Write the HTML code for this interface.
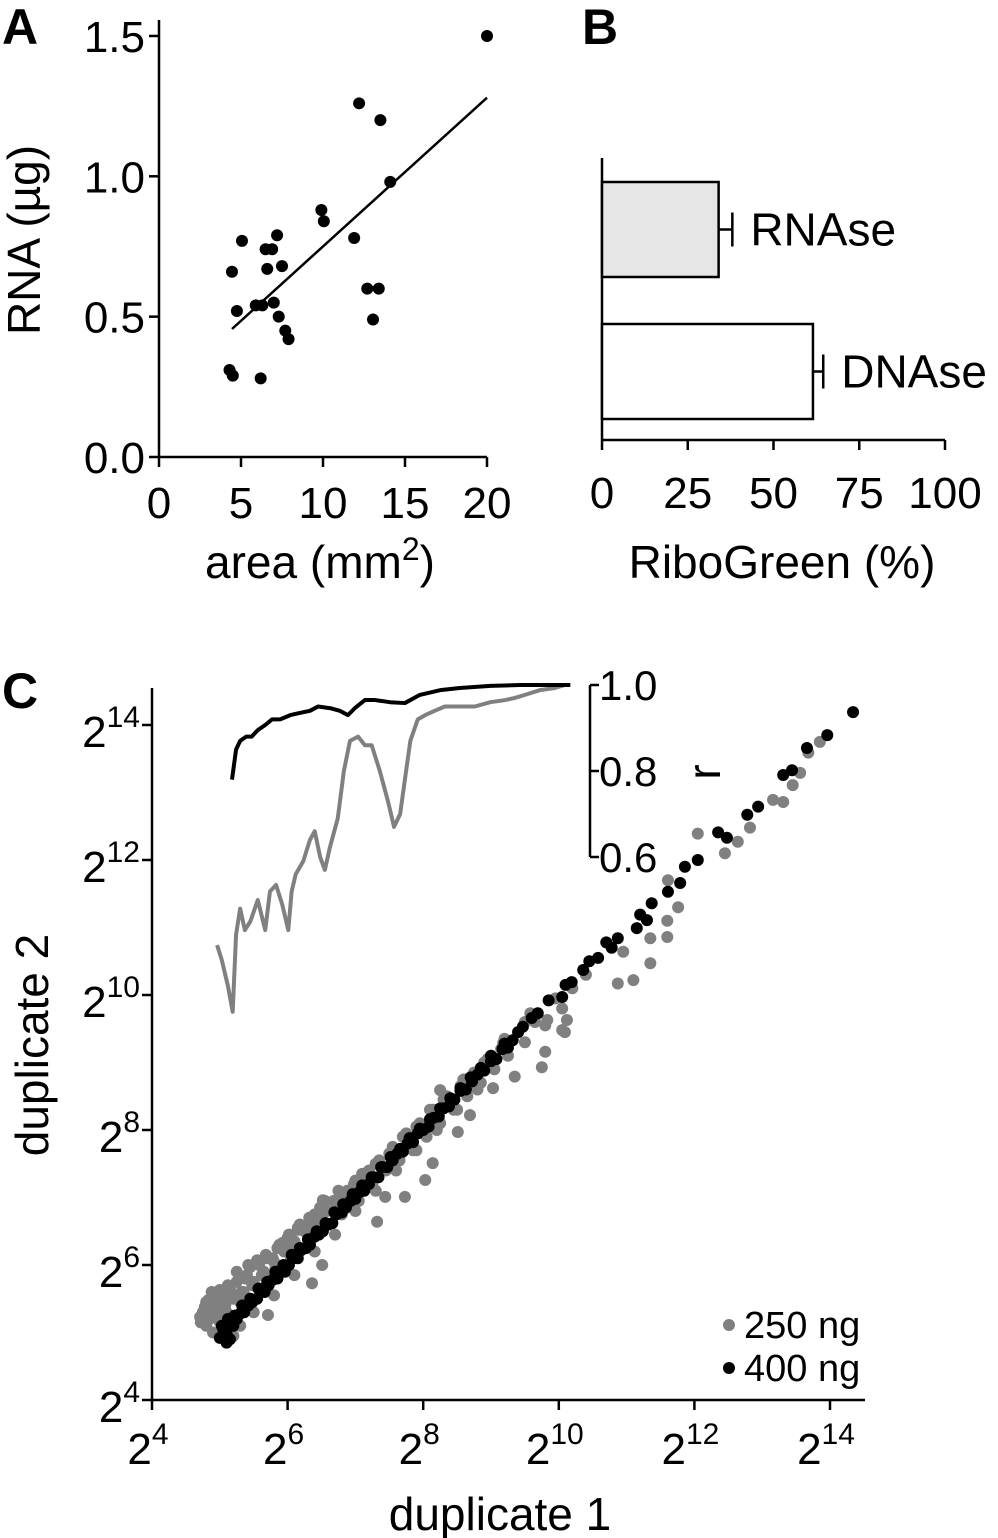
<!DOCTYPE html>
<html><head><meta charset="utf-8">
<style>
html,body{margin:0;padding:0;background:#fff;}
svg{display:block;font-family:"Liberation Sans",Arial,sans-serif;}
</style></head>
<body>
<svg id="fig" width="998" height="1538" viewBox="0 0 998 1538" xmlns="http://www.w3.org/2000/svg">
<text x="2" y="44" font-size="50" font-weight="bold">A</text>
<text x="582" y="44" font-size="50" font-weight="bold">B</text>
<text x="2" y="708" font-size="50" font-weight="bold">C</text>
<g id="pa"></g>
<g id="pb"></g>
<g id="pc"></g>
</svg>
<script>
// Panel A data
const areaX=[20,12.2,13.5,14.1,9.9,10.05,11.9,5.06,7.2,6.5,6.9,6.6,7.5,4.45,4.75,5.9,6.3,7.0,12.7,13.4,7.3,7.7,7.9,13.05,4.3,4.5,6.2];
const rnaY=[1.5,1.26,1.2,0.98,0.88,0.84,0.78,0.77,0.79,0.74,0.74,0.67,0.68,0.66,0.52,0.54,0.54,0.55,0.6,0.6,0.5,0.45,0.42,0.49,0.31,0.29,0.28];
const fitX=[4.45,20];
const fitY=[0.456,1.28];
const aXTicks=[0,5,10,15,20];
const aYTicks=[0.0,0.5,1.0,1.5];
// Panel B data
const bCats=["RNAse","DNAse"];
const bVals=[34,61.5];
const bErr=[4,3];
const bTicks=[0,25,50,75,100];
// Panel C inset
const gR_x=[4.96,5.03,5.12,5.19,5.24,5.30,5.37,5.45,5.56,5.67,5.74,5.83,5.92,6.01,6.06,6.12,6.23,6.33,6.40,6.48,6.55,6.62,6.74,6.83,6.92,7.04,7.14,7.24,7.36,7.48,7.57,7.66,7.73,7.81,7.92,8.03,8.17,8.32,8.54,8.76,8.99,9.21,9.35,9.50,9.72,9.94,10.09];
const gR_r=[0.395,0.36,0.30,0.24,0.42,0.48,0.43,0.45,0.50,0.43,0.52,0.535,0.49,0.43,0.52,0.56,0.59,0.64,0.66,0.60,0.57,0.62,0.69,0.80,0.87,0.88,0.86,0.86,0.80,0.73,0.67,0.70,0.78,0.87,0.92,0.93,0.94,0.95,0.95,0.95,0.96,0.965,0.97,0.977,0.988,0.993,1.0];
const bR_x=[5.18,5.24,5.30,5.39,5.47,5.56,5.67,5.77,5.89,6.04,6.18,6.33,6.45,6.63,6.77,6.89,6.99,7.14,7.29,7.51,7.73,7.95,8.25,8.54,8.99,9.43,10.17];
const bR_r=[0.78,0.85,0.87,0.88,0.88,0.895,0.907,0.92,0.92,0.93,0.935,0.94,0.95,0.946,0.94,0.93,0.946,0.965,0.965,0.96,0.958,0.977,0.988,0.993,0.998,1.0,1.0];
// Panel C scatter (log2 units)
const grayX=[4.75,4.8,4.85,4.9,4.95,5.0,5.0,5.05,5.1,5.15,5.2,5.2,5.25,5.3,5.35,5.4,5.45,5.5,5.55,5.6,5.65,5.7,5.75,5.8,5.85,5.9,5.95,6.0,6.05,6.1,6.15,6.2,6.25,6.3,6.35,6.4,6.45,6.5,6.55,6.6,6.7,6.75,6.8,6.9,7.0,7.05,7.15,7.25,7.35,7.45,7.55,7.65,7.75,7.85,7.95,8.05,8.15,8.25,8.35,8.45,8.55,8.65,8.75,8.85,8.95,9.05,9.15,9.25,9.4,9.5,9.65,9.8,9.95,10.05,10.2,10.4,
5.2,5.3,5.5,5.8,6.1,6.4,6.7,7.0,7.3,7.6,7.9,8.2,8.5,8.8,
10.09,9.8,9.75,9.35,9.03,8.69,8.51,8.14,8.03,7.73,7.44,7.32,6.51,6.36,5.71,6.15,5.55,4.83,4.71,5.0,5.45,5.93,6.52,7.17,8.25,8.59,9.18,
12.05,12.45,12.64,12.82,13.16,13.31,13.45,13.56,13.85,13.68,11.61,11.76,11.6,11.6,11.35,11.35,11.1,10.87,10.95,10.12,10.05,9.83,9.58,4.8,4.9,5.1,4.85,5.05,
4.72,4.78,4.88,4.95,5.02,5.08,5.12,5.18,5.25,5.32,5.38,5.42,5.48,5.58,5.62,5.68,5.78,5.82,5.88,5.98,6.02,6.12,6.18,6.28,6.32,6.42,6.48,6.58,6.68,6.78,6.88,6.98,7.1,7.2,7.3,7.5,7.7,7.9,8.1,8.3,8.6,8.9,9.2,9.5];
const grayY=[5.3,5.45,5.2,5.5,5.35,5.6,5.15,5.45,5.3,5.65,5.5,5.2,5.75,5.45,5.6,5.85,5.5,5.75,6.05,5.65,5.9,6.1,5.8,6.05,6.25,5.95,6.2,6.4,6.1,6.35,6.55,6.25,6.5,6.3,6.6,6.75,6.45,6.7,6.95,6.6,6.85,7.1,6.75,7.05,7.25,6.95,7.35,7.2,7.55,7.4,7.75,7.55,7.95,7.7,8.1,7.9,8.3,8.1,8.5,8.3,8.65,8.5,8.85,8.7,9.05,8.9,9.2,9.1,9.45,9.3,9.6,9.55,9.95,9.8,10.1,10.3,
4.95,5.1,5.3,5.55,5.85,6.2,6.45,6.8,7.1,7.4,7.7,8.0,8.3,8.6,
9.45,9.16,8.93,8.79,8.62,8.22,7.97,7.51,7.26,7.01,7.01,6.64,6.0,5.73,5.26,6.52,6.07,5.48,5.23,5.63,5.97,6.33,6.96,7.36,8.59,8.74,9.29,
12.39,12.1,12.27,12.48,12.89,12.86,13.11,13.29,13.75,13.59,11.7,11.3,11.1,10.86,10.84,10.47,10.22,10.17,10.64,9.63,9.48,9.63,9.73,5.1,5.0,5.05,5.35,4.95,
5.15,5.38,5.6,5.25,5.55,5.4,5.7,5.55,5.9,5.6,5.8,6.0,5.7,6.0,5.85,6.15,6.1,5.95,6.3,6.25,6.45,6.3,6.6,6.5,6.7,6.6,6.85,6.8,6.95,7.0,7.1,7.2,7.35,7.4,7.5,7.65,7.9,8.05,8.3,8.45,8.75,9.0,9.35,9.6];
const blackX=[5.0,5.05,5.1,5.15,5.2,5.25,5.3,5.36,5.42,5.48,5.55,5.6,5.66,5.72,5.78,5.85,5.9,5.96,6.02,6.08,6.15,6.2,6.27,6.33,6.4,6.46,6.52,6.6,6.66,6.72,6.8,6.86,6.93,7.0,7.06,7.13,7.2,7.27,7.34,7.4,7.47,7.55,7.62,7.7,7.77,7.85,7.92,8.0,8.08,8.15,8.23,8.3,8.38,8.46,8.55,8.63,8.72,8.8,8.9,9.0,9.08,9.17,9.25,9.32,9.47,9.69,10.05,10.19,10.36,10.58,10.78,10.87,11.15,11.3,11.2,11.37,11.61,11.79,11.86,12.05,12.48,12.35,12.94,12.78,13.44,13.31,13.66,13.96,14.34,5.1,5.15,
5.03,5.12,5.22,5.33,5.45,5.57,5.7,5.82,5.94,6.06,6.18,6.3,6.43,6.56,6.69,6.82,6.96,7.1,7.24,7.38,7.52,7.66,7.8,7.95,8.1,8.25,8.4,8.55,8.7,8.85,9.0,9.2,9.4,9.6,9.85,10.1,10.45,10.7];
const blackY=[4.92,5.05,4.98,5.12,5.1,5.2,5.28,5.3,5.4,5.45,5.5,5.62,5.6,5.7,5.78,5.8,5.92,5.9,6.0,6.1,6.1,6.22,6.25,6.3,6.42,6.45,6.5,6.6,6.62,6.75,6.78,6.85,6.95,6.98,7.08,7.1,7.2,7.3,7.3,7.45,7.45,7.55,7.65,7.68,7.8,7.82,7.95,8.0,8.05,8.18,8.2,8.32,8.35,8.45,8.58,8.6,8.72,8.82,8.88,9.02,9.05,9.2,9.22,9.33,9.53,9.73,9.97,10.19,10.37,10.55,10.7,10.84,10.99,11.11,11.19,11.36,11.53,11.66,11.9,12.0,12.33,12.41,12.79,12.67,13.33,13.26,13.66,13.85,14.19,4.85,4.9,
5.1,5.2,5.25,5.4,5.5,5.65,5.75,5.9,6.0,6.15,6.25,6.38,6.5,6.62,6.78,6.9,7.05,7.18,7.3,7.45,7.6,7.72,7.88,8.02,8.16,8.32,8.47,8.62,8.78,8.92,9.1,9.28,9.45,9.66,9.92,10.15,10.5,10.78];

const NS="http://www.w3.org/2000/svg";
function mk(parent,tag,attrs,txt){const e=document.createElementNS(NS,tag);for(const k in attrs)e.setAttribute(k,attrs[k]);if(txt!==undefined)e.textContent=txt;parent.appendChild(e);return e;}
const blk="#000";
const FS=44;

// ---------- Panel A ----------
const pa=document.getElementById('pa');
const ax=v=>159+v*16.4, ay=v=>457-v*280.7;
let e;
e=mk(pa,'line',{x1:159,y1:20,x2:159,y2:457,stroke:blk,'stroke-width':2.5});


e=mk(pa,'line',{x1:159,y1:457,x2:487,y2:457,stroke:blk,'stroke-width':2.5});


aXTicks.forEach(t=>{
  mk(pa,'line',{x1:ax(t),y1:457,x2:ax(t),y2:467,stroke:blk,'stroke-width':2.5});
  e=mk(pa,'text',{x:ax(t),y:518,'font-size':FS,'text-anchor':'middle'},String(t));
  
  
});
aYTicks.forEach(t=>{
  mk(pa,'line',{x1:149,y1:ay(t),x2:159,y2:ay(t),stroke:blk,'stroke-width':2.5});
  e=mk(pa,'text',{x:145,y:ay(t)+16,'font-size':FS,'text-anchor':'end'},t.toFixed(1));
  
  
});
e=mk(pa,'line',{x1:ax(fitX[0]),y1:ay(fitY[0]),x2:ax(fitX[1]),y2:ay(fitY[1]),stroke:blk,'stroke-width':2.5});


areaX.forEach((v,i)=>{
  e=mk(pa,'circle',{cx:ax(v),cy:ay(rnaY[i]),r:6,fill:blk});
  
  
});
e=mk(pa,'text',{x:0,y:0,'font-size':46,'text-anchor':'middle',transform:'translate(40,240) rotate(-90)'},'RNA (µg)');


e=mk(pa,'text',{x:320,y:578,'font-size':46,'text-anchor':'middle'});


mk(e,'tspan',{},'area (mm');mk(e,'tspan',{'font-size':32,dy:-18},'2');mk(e,'tspan',{dy:18},')');

// ---------- Panel B ----------
const pb=document.getElementById('pb');
const bx=v=>602+v*3.43;
e=mk(pb,'line',{x1:602,y1:158,x2:602,y2:440,stroke:blk,'stroke-width':2.5});


e=mk(pb,'line',{x1:602,y1:440,x2:945,y2:440,stroke:blk,'stroke-width':2.5});


bTicks.forEach(t=>{
  mk(pb,'line',{x1:bx(t),y1:440,x2:bx(t),y2:450,stroke:blk,'stroke-width':2.5});
  e=mk(pb,'text',{x:bx(t),y:508,'font-size':FS,'text-anchor':'middle'},String(t));
  
  
});
const bTop=[182,324], bH=95, bFill=["#e6e6e6","#fff"];
bCats.forEach((c,i)=>{
  const y0=bTop[i];
  e=mk(pb,'rect',{x:602,y:y0,width:bx(bVals[i])-602,height:bH,fill:bFill[i],stroke:blk,'stroke-width':2.5});
  
  
  const ex=bx(bVals[i]+bErr[i]);
  e=mk(pb,'path',{d:`M${bx(bVals[i])},${y0+bH/2}H${ex}M${ex},${y0+bH/2-17}V${y0+bH/2+17}`,stroke:blk,'stroke-width':2.5,fill:'none'});
  
  
  e=mk(pb,'text',{x:ex+18,y:y0+bH/2+16,'font-size':46},c);
  
  
});
e=mk(pb,'text',{x:782,y:578,'font-size':46,'text-anchor':'middle'},'RiboGreen (%)');



// ---------- Panel C ----------
const pc=document.getElementById('pc');
const cx=v=>152+(v-4)*67.8, cy=v=>1400-(v-4)*67.5;
e=mk(pc,'line',{x1:152,y1:688,x2:152,y2:1400,stroke:blk,'stroke-width':2.5});


e=mk(pc,'line',{x1:152,y1:1400,x2:865,y2:1400,stroke:blk,'stroke-width':2.5});


const cTicks=[4,6,8,10,12,14];
cTicks.forEach(t=>{
  mk(pc,'line',{x1:cx(t),y1:1400,x2:cx(t),y2:1410,stroke:blk,'stroke-width':2.5});
  mk(pc,'line',{x1:142,y1:cy(t),x2:152,y2:cy(t),stroke:blk,'stroke-width':2.5});
  e=mk(pc,'text',{x:cx(t)-4,y:1464,'font-size':FS,'text-anchor':'middle'});
  
  
  mk(e,'tspan',{},'2');mk(e,'tspan',{'font-size':30,dy:-20},String(t));
  e=mk(pc,'text',{x:140,y:cy(t)+22,'font-size':FS,'text-anchor':'end'});
  
  
  mk(e,'tspan',{},'2');mk(e,'tspan',{'font-size':30,dy:-20},String(t));
});
e=mk(pc,'text',{x:0,y:0,'font-size':46,'text-anchor':'middle',transform:'translate(48,1045) rotate(-90)'},'duplicate 2');


e=mk(pc,'text',{x:500,y:1530,'font-size':46,'text-anchor':'middle'},'duplicate 1');


// scatter
grayX.forEach((v,i)=>{
  e=mk(pc,'circle',{cx:cx(v),cy:cy(grayY[i]),r:6,fill:'#808080'});
  
  
});
blackX.forEach((v,i)=>{
  e=mk(pc,'circle',{cx:cx(v),cy:cy(blackY[i]),r:6,fill:blk});
  
  
});
// inset
const ry=r=>685+(1-r)*430;
e=mk(pc,'line',{x1:590,y1:685,x2:590,y2:857,stroke:blk,'stroke-width':2.5});


[1.0,0.8,0.6].forEach(t=>{
  mk(pc,'line',{x1:590,y1:ry(t),x2:599,y2:ry(t),stroke:blk,'stroke-width':2.5});
  e=mk(pc,'text',{x:599,y:ry(t)+15,'font-size':42},t.toFixed(1));
  
  
});
e=mk(pc,'text',{x:0,y:0,'font-size':46,'text-anchor':'middle',transform:'translate(720,772) rotate(-90)'},'r');


e=mk(pc,'polyline',{points:gR_x.map((v,i)=>cx(v)+','+ry(gR_r[i])).join(' '),fill:'none',stroke:'#808080','stroke-width':4,'stroke-linejoin':'round'});


e=mk(pc,'polyline',{points:bR_x.map((v,i)=>cx(v)+','+ry(bR_r[i])).join(' '),fill:'none',stroke:blk,'stroke-width':4,'stroke-linejoin':'round'});


// legend
e=mk(pc,'circle',{cx:729,cy:1325,r:6,fill:'#808080'});


e=mk(pc,'text',{x:744,y:1338,'font-size':38},'250 ng');


e=mk(pc,'circle',{cx:729,cy:1368,r:6,fill:blk});


e=mk(pc,'text',{x:744,y:1381,'font-size':38},'400 ng');


</script>
</body></html>
